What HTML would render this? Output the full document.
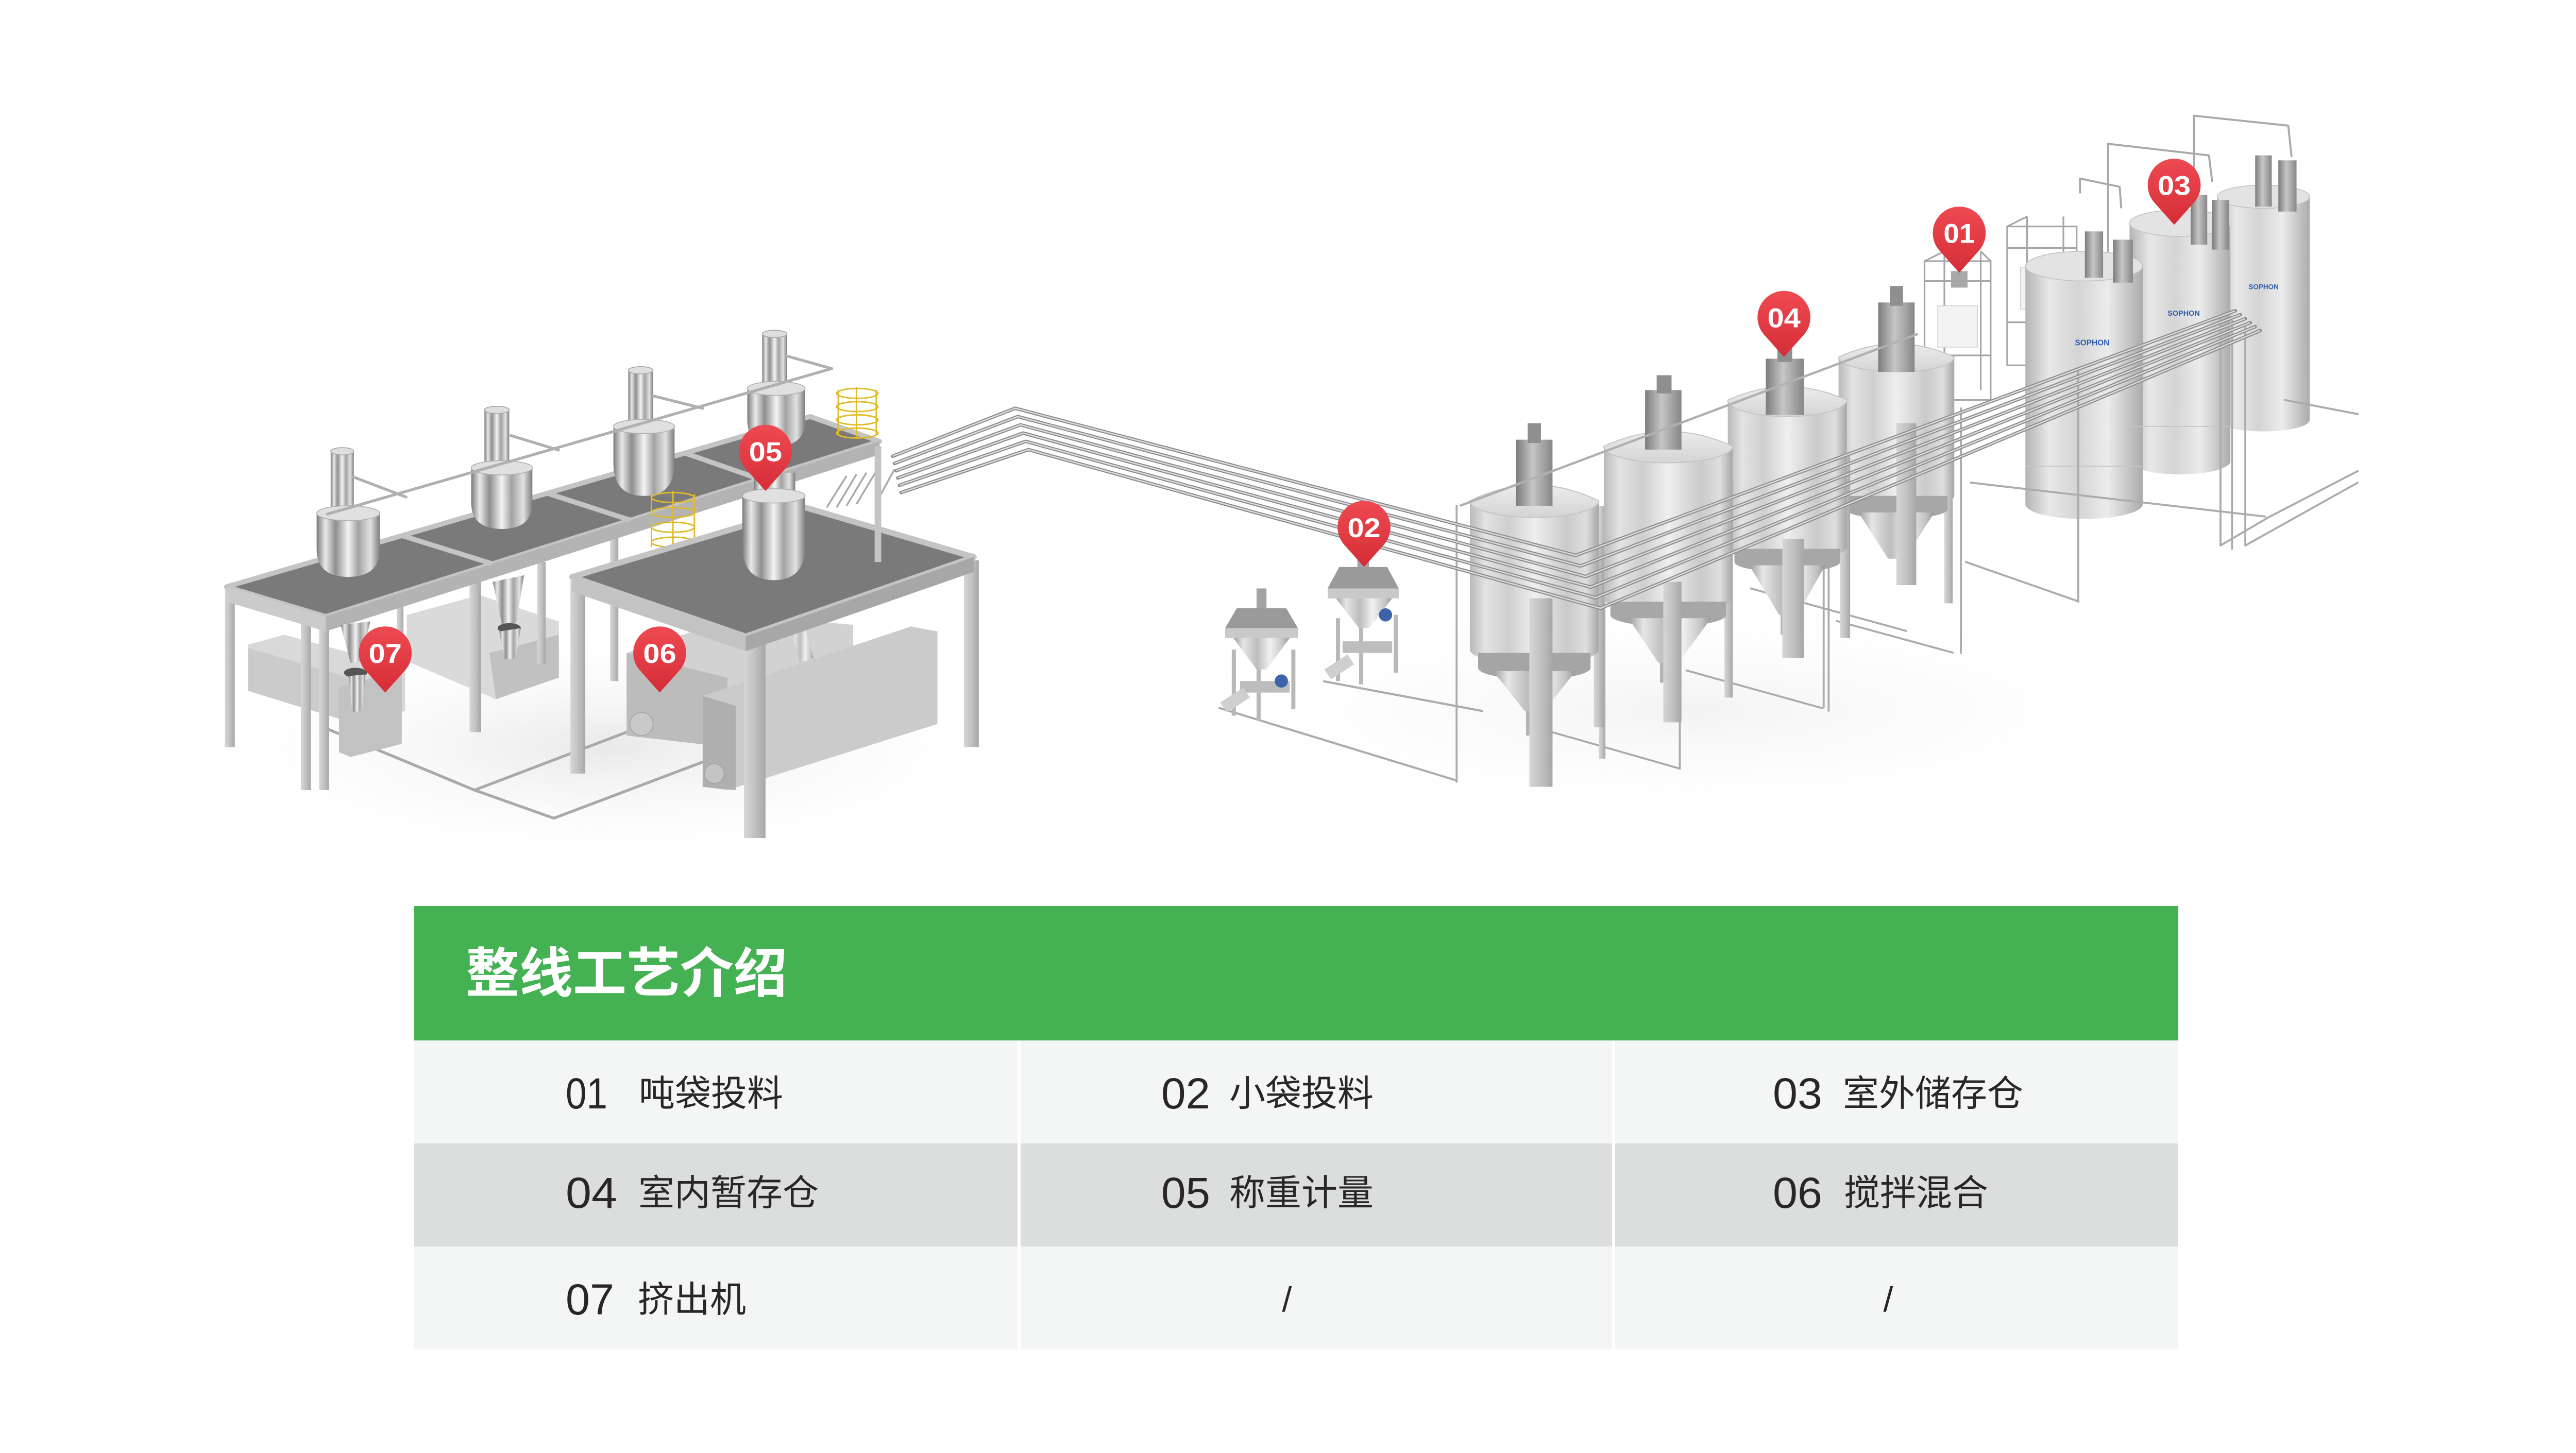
<!DOCTYPE html>
<html>
<head>
<meta charset="utf-8">
<style>
html,body{margin:0;padding:0;background:#ffffff;}
body{width:5032px;height:2821px;overflow:hidden;}
svg{display:block;}
</style>
</head>
<body>
<svg width="5032" height="2821" viewBox="0 0 5032 2821" xmlns="http://www.w3.org/2000/svg">
<defs>
  <linearGradient id="cyl" x1="0" y1="0" x2="1" y2="0">
    <stop offset="0" stop-color="#9c9c9c"/>
    <stop offset="0.18" stop-color="#e6e6e6"/>
    <stop offset="0.42" stop-color="#bdbdbd"/>
    <stop offset="0.65" stop-color="#f1f1f1"/>
    <stop offset="0.88" stop-color="#c4c4c4"/>
    <stop offset="1" stop-color="#959595"/>
  </linearGradient>
  <linearGradient id="gl" x1="0" y1="0" x2="1" y2="0">
    <stop offset="0" stop-color="#7a7a7a"/>
    <stop offset="0.14" stop-color="#e9e9e9"/>
    <stop offset="0.3" stop-color="#8e8e8e"/>
    <stop offset="0.5" stop-color="#f4f4f4"/>
    <stop offset="0.66" stop-color="#a2a2a2"/>
    <stop offset="0.85" stop-color="#e2e2e2"/>
    <stop offset="1" stop-color="#7d7d7d"/>
  </linearGradient>
  <linearGradient id="tk" x1="0" y1="0" x2="1" y2="0">
    <stop offset="0" stop-color="#b9b9b9"/>
    <stop offset="0.12" stop-color="#e3e3e3"/>
    <stop offset="0.3" stop-color="#cfcfcf"/>
    <stop offset="0.5" stop-color="#efefef"/>
    <stop offset="0.75" stop-color="#cacaca"/>
    <stop offset="0.9" stop-color="#dedede"/>
    <stop offset="1" stop-color="#a6a6a6"/>
  </linearGradient>
  <linearGradient id="si" x1="0" y1="0" x2="1" y2="0">
    <stop offset="0" stop-color="#b4b4b4"/>
    <stop offset="0.2" stop-color="#e8e8e8"/>
    <stop offset="0.45" stop-color="#d4d4d4"/>
    <stop offset="0.7" stop-color="#ececec"/>
    <stop offset="1" stop-color="#ababab"/>
  </linearGradient>
  <linearGradient id="dk" x1="0" y1="0" x2="1" y2="0">
    <stop offset="0" stop-color="#7c7c7c"/>
    <stop offset="0.45" stop-color="#c6c6c6"/>
    <stop offset="1" stop-color="#868686"/>
  </linearGradient>
  <linearGradient id="leg" x1="0" y1="0" x2="1" y2="0">
    <stop offset="0" stop-color="#d6d6d6"/>
    <stop offset="0.5" stop-color="#c2c2c2"/>
    <stop offset="1" stop-color="#a7a7a7"/>
  </linearGradient>
  <linearGradient id="dome" x1="0" y1="0" x2="0" y2="1">
    <stop offset="0" stop-color="#ececec"/>
    <stop offset="1" stop-color="#d4d4d4"/>
  </linearGradient>
  <linearGradient id="mk" x1="0" y1="0" x2="0" y2="1">
    <stop offset="0" stop-color="#ee4a52"/>
    <stop offset="1" stop-color="#d52d37"/>
  </linearGradient>
  <radialGradient id="sh" cx="0.5" cy="0.5" r="0.5">
    <stop offset="0" stop-color="#e9e9e9" stop-opacity="1"/>
    <stop offset="1" stop-color="#ffffff" stop-opacity="0"/>
  </radialGradient>
</defs>

<rect x="0" y="0" width="5032" height="2821" fill="#ffffff"/>

<g transform="scale(3.20918)">
  <!-- floor shadows -->
  <ellipse cx="365" cy="452" rx="260" ry="74" fill="url(#sh)"/>
  <ellipse cx="1020" cy="430" rx="320" ry="70" fill="url(#sh)" opacity="0.55"/>

  <!-- left floor pipes -->
  <g fill="none" stroke="#a9a9a9" stroke-width="1.7" stroke-linecap="round" stroke-linejoin="round">
    <polyline points="198,311 198,441 287,478 335,495 433,458"/>
    <polyline points="287,478 392,438"/>
  </g>

  <!-- extruder boxes under long platform -->
  <polygon points="150,390 172,384 245,404 245,430 222,440 150,418" fill="#d9d9d9"/>
  <polygon points="150,392 222,413 222,440 150,418" fill="#cbcbcb"/>
  <polygon points="205,416 243,405 243,450 212,458 205,455" fill="#c2c2c2"/>
  <polygon points="246,372 290,360 338,376 338,408 300,423 246,400" fill="#dadada"/>
  <polygon points="296,395 338,384 338,410 300,423" fill="#c1c1c1"/>

  <!-- long platform legs -->
  <g fill="url(#leg)">
    <rect x="136" y="356" width="6" height="96"/>
    <rect x="182" y="374" width="6" height="104"/>
    <rect x="193" y="377" width="6" height="101"/>
    <rect x="240" y="330" width="4" height="60"/>
    <rect x="284" y="348" width="7" height="95"/>
    <rect x="325" y="340" width="5" height="62"/>
    <rect x="369" y="318" width="5" height="94"/>
  </g>

  <!-- long platform top -->
  <polygon points="137,355 490,252 532,267 197,373" fill="#7a7a7a" stroke="#c4c4c4" stroke-width="3" stroke-linejoin="round"/>
  <polygon points="137,355 197,373 197,382 137,364" fill="#cbcbcb"/>
  <polygon points="197,373 532,267 532,275 197,382" fill="#b3b3b3"/>
  <g stroke="#c4c4c4" stroke-width="3">
    <line x1="243" y1="324" x2="297.5" y2="341"/>
    <line x1="331" y1="298.4" x2="381.3" y2="314.7"/>
    <line x1="414" y1="274" x2="460" y2="290"/>
  </g>

  <!-- funnels under long platform -->
  <path d="M206,378 L224,376 L218,400 L212,401 Z" fill="url(#gl)"/>
  <ellipse cx="215" cy="407" rx="7" ry="3" fill="#555"/>
  <path d="M211,409 L221,408 L219,430 L213,431 Z" fill="url(#gl)"/>
  <path d="M298,352 L317,348 L312,378 L304,380 Z" fill="url(#gl)"/>
  <ellipse cx="308" cy="380" rx="7" ry="3" fill="#555"/>
  <path d="M302,382 L315,380 L312,398 L305,399 Z" fill="url(#gl)"/>

  <!-- yellow cages -->
  <g fill="none" stroke="#e0bb27" stroke-width="0.9">
    <line x1="507" y1="236" x2="507" y2="263"/><line x1="518" y1="234" x2="518" y2="265"/><line x1="530" y1="236" x2="530" y2="263"/>
    <ellipse cx="518.5" cy="238" rx="12.5" ry="3"/><ellipse cx="518.5" cy="246" rx="12.5" ry="3"/>
    <ellipse cx="518.5" cy="254" rx="12.5" ry="3"/><ellipse cx="518.5" cy="262" rx="12.5" ry="3"/>
    <line x1="394" y1="299" x2="394" y2="331"/><line x1="407" y1="297" x2="407" y2="333"/><line x1="420" y1="299" x2="420" y2="331"/>
    <ellipse cx="407" cy="301" rx="13" ry="3"/><ellipse cx="407" cy="310" rx="13" ry="3"/>
    <ellipse cx="407" cy="319" rx="13" ry="3"/><ellipse cx="407" cy="328" rx="13" ry="3"/>
  </g>

  <!-- station hoppers + loaders on long platform -->
  <!-- S1 -->
  <rect x="200" y="273" width="14" height="37" fill="url(#gl)"/>
  <ellipse cx="207" cy="273" rx="7" ry="2.2" fill="#dedede" stroke="#a8a8a8" stroke-width="0.5"/>
  <path d="M191.5,310.5 L191.5,332 Q191.5,349 210.6,349 Q229.7,349 229.7,332 L229.7,310.5 Z" fill="url(#gl)"/>
  <ellipse cx="210.6" cy="310.5" rx="19.1" ry="4.5" fill="#e0e0e0" stroke="#b0b0b0" stroke-width="0.5"/>
  <!-- S2 -->
  <rect x="293" y="248" width="15" height="36" fill="url(#gl)"/>
  <ellipse cx="300.5" cy="248" rx="7.5" ry="2.2" fill="#dedede" stroke="#a8a8a8" stroke-width="0.5"/>
  <path d="M285,283 L285,304 Q285,320 303.5,320 Q322,320 322,304 L322,283 Z" fill="url(#gl)"/>
  <ellipse cx="303.5" cy="283" rx="18.5" ry="4.3" fill="#e0e0e0" stroke="#b0b0b0" stroke-width="0.5"/>
  <!-- S3 -->
  <rect x="380" y="224" width="15" height="35" fill="url(#gl)"/>
  <ellipse cx="387.5" cy="224" rx="7.5" ry="2.2" fill="#dedede" stroke="#a8a8a8" stroke-width="0.5"/>
  <path d="M371,258 L371,280 Q371,300 389.5,300 Q408,300 408,280 L408,258 Z" fill="url(#gl)"/>
  <ellipse cx="389.5" cy="258" rx="18.5" ry="4.3" fill="#e0e0e0" stroke="#b0b0b0" stroke-width="0.5"/>
  <!-- S4 -->
  <rect x="461" y="202" width="15" height="34" fill="url(#gl)"/>
  <ellipse cx="468.5" cy="202" rx="7.5" ry="2.2" fill="#dedede" stroke="#a8a8a8" stroke-width="0.5"/>
  <path d="M452,235 L452,254 Q452,270 469.5,270 Q487,270 487,254 L487,235 Z" fill="url(#gl)"/>
  <ellipse cx="469.5" cy="235" rx="17.5" ry="4.2" fill="#e0e0e0" stroke="#b0b0b0" stroke-width="0.5"/>

  <!-- top conveying pipe -->
  <g fill="none" stroke="#b0b0b0" stroke-width="1.7" stroke-linecap="round">
    <line x1="198" y1="311" x2="503" y2="223"/>
    <line x1="213.8" y1="288.6" x2="245.6" y2="300.7"/>
    <line x1="309" y1="263.5" x2="337.8" y2="272.3"/>
    <line x1="395" y1="239.5" x2="425" y2="247"/>
    <line x1="476" y1="215.4" x2="503" y2="223"/>
  </g>

  <!-- mixer 06 -->
  <polygon points="379,395 450,372 516,378 516,430 440,452 379,445" fill="#d2d2d2"/>
  <polygon points="379,395 440,410 440,452 379,445" fill="#bcbcbc"/>
  <ellipse cx="388" cy="438" rx="7" ry="7" fill="#c9c9c9" stroke="#a5a5a5" stroke-width="0.5"/>
  <polygon points="425,421 551,379 567,382 567,438 440,478 425,476" fill="#cbcbcb"/>
  <polygon points="425,421 445,427 445,478 425,476" fill="#afafaf"/>
  <ellipse cx="432" cy="468" rx="6" ry="6" fill="#c4c4c4" stroke="#a3a3a3" stroke-width="0.5"/>
  <path d="M478,380 L486,377 L492,398 L484,401 Z" fill="url(#cyl)"/>

  <!-- big platform legs -->
  <g fill="url(#leg)">
    <rect x="345" y="351" width="9" height="117"/>
    <rect x="583" y="339" width="9" height="113"/>
    <rect x="450" y="387" width="13" height="120"/>
  </g>
  <!-- big platform top -->
  <polygon points="346,349 487,307 589,337 451,385" fill="#7a7a7a" stroke="#c4c4c4" stroke-width="3.5" stroke-linejoin="round"/>
  <polygon points="346,349 451,385 451,394 346,358" fill="#c3c3c3"/>
  <polygon points="451,385 589,337 589,346 451,394" fill="#a7a7a7"/>
  <!-- central weigh unit -->
  <rect x="456" y="286" width="25" height="16" fill="url(#gl)"/>
  <path d="M449,300 L449,330 Q449,351 468,351 Q487,351 487,330 L487,300 Z" fill="url(#gl)"/>
  <ellipse cx="468" cy="300" rx="19" ry="4.3" fill="#e0e0e0" stroke="#b0b0b0" stroke-width="0.5"/>

  <!-- flex hoses to pipe bundle -->
  <g stroke="#a9a9a9" stroke-width="1.1" fill="none">
    <line x1="500" y1="307" x2="512" y2="288"/>
    <line x1="506" y1="307" x2="518" y2="287"/>
    <line x1="512" y1="306" x2="524" y2="286"/>
    <line x1="518" y1="305" x2="530" y2="285"/>
    <line x1="530" y1="304" x2="541" y2="284"/>
  </g>
  <rect x="529" y="270" width="4" height="70" fill="#c4c4c4"/>

  <!-- small bag stations 02 -->
  <g fill="none" stroke="#acacac" stroke-width="1.3" stroke-linecap="round">
    <line x1="737.5" y1="428.3" x2="881" y2="472.2"/>
    <line x1="800.8" y1="412.2" x2="896.4" y2="430.1"/>
  </g>
  <!-- unit B -->
  <g>
    <rect x="745" y="393" width="2.5" height="40" fill="#b9b9b9"/>
    <rect x="781" y="393" width="2.5" height="36" fill="#b9b9b9"/>
    <rect x="760" y="398" width="2.5" height="38" fill="#b9b9b9"/>
    <polygon points="748,368 778,368 785,380 741,380" fill="#9a9a9a"/>
    <polygon points="741,380 785,380 785,386 741,386" fill="#c9c9c9"/>
    <polygon points="746,386 780,386 766,405 760,405" fill="url(#cyl)"/>
    <rect x="760" y="356" width="6" height="12" fill="#a3a3a3"/>
    <rect x="750" y="412" width="30" height="7" fill="#bdbdbd"/>
    <ellipse cx="775" cy="412" rx="4" ry="4" fill="#3f63a8"/>
    <polygon points="738,425 752,416 756,422 742,431" fill="#cfcfcf"/>
  </g>
  <!-- unit A -->
  <g>
    <rect x="808" y="374" width="2.5" height="38" fill="#b9b9b9"/>
    <rect x="843" y="372" width="2.5" height="35" fill="#b9b9b9"/>
    <rect x="822" y="378" width="2.5" height="36" fill="#b9b9b9"/>
    <polygon points="810,343 839,343 846,356 803,356" fill="#9a9a9a"/>
    <polygon points="803,356 846,356 846,362 803,362" fill="#c9c9c9"/>
    <polygon points="808,362 842,362 828,380 822,380" fill="url(#cyl)"/>
    <rect x="821" y="333" width="7" height="10" fill="#a3a3a3"/>
    <rect x="812" y="388" width="30" height="7" fill="#bdbdbd"/>
    <ellipse cx="838" cy="372" rx="4" ry="4" fill="#3f63a8"/>
    <polygon points="801,405 815,396 819,402 805,411" fill="#cfcfcf"/>
  </g>

  <!-- bag station frames (01 and neighbour) -->
  <g stroke="#a6a6a6" stroke-width="1" fill="none">
    <rect x="1164" y="158" width="40" height="84"/>
    <line x1="1176" y1="152" x2="1176" y2="236"/>
    <line x1="1198" y1="152" x2="1198" y2="236"/>
    <line x1="1164" y1="158" x2="1176" y2="152"/>
    <line x1="1204" y1="158" x2="1198" y2="152"/>
    <line x1="1164" y1="170" x2="1204" y2="170"/>
    <line x1="1164" y1="215" x2="1204" y2="215"/>
    <rect x="1214" y="137" width="42" height="84"/>
    <line x1="1226" y1="131" x2="1226" y2="216"/>
    <line x1="1248" y1="131" x2="1248" y2="216"/>
    <line x1="1214" y1="137" x2="1226" y2="131"/>
    <line x1="1214" y1="150" x2="1256" y2="150"/>
    <line x1="1214" y1="195" x2="1256" y2="195"/>
  </g>
  <rect x="1172" y="185" width="24" height="25" fill="#f3f3f3" stroke="#d0d0d0" stroke-width="0.5"/>
  <rect x="1222" y="162" width="24" height="25" fill="#f3f3f3" stroke="#d0d0d0" stroke-width="0.5"/>
  <rect x="1180" y="164" width="10" height="10" fill="#a8a8a8"/>

  <!-- outdoor silo piping frames -->
  <g fill="none" stroke="#a9a9a9" stroke-width="1.2" stroke-linejoin="round">
    <polyline points="1258,117 1258,108 1282,113 1283,126"/>
    <polyline points="1275,190 1275,87 1336,94 1338,110"/>
    <polyline points="1327,122 1327,70 1384,76 1386,95"/>
  </g>

  <!-- silos (back to front) -->
  <!-- S3 -->
  <path d="M1341,119 L1341,254 A28,7 0 0 0 1397,254 L1397,119 Z" fill="url(#si)"/>
  <ellipse cx="1369" cy="119" rx="28" ry="7" fill="#e3e3e3" stroke="#c2c2c2" stroke-width="0.5"/>
  <rect x="1364" y="94" width="10" height="31" fill="url(#dk)"/>
  <rect x="1378" y="97" width="11" height="31" fill="url(#dk)"/>
  <text x="1360" y="175" font-family="'Liberation Sans',sans-serif" font-size="4.2" font-weight="700" fill="#2f5db3">SOPHON</text>
  <!-- S2 -->
  <path d="M1288,135 L1288,279 A30.5,8 0 0 0 1349,279 L1349,135 Z" fill="url(#si)"/>
  <ellipse cx="1318.5" cy="135" rx="30.5" ry="8" fill="#e3e3e3" stroke="#c2c2c2" stroke-width="0.5"/>
  <rect x="1325" y="118" width="10" height="30" fill="url(#dk)"/>
  <rect x="1338" y="121" width="10" height="30" fill="url(#dk)"/>
  <text x="1311" y="191" font-family="'Liberation Sans',sans-serif" font-size="4.5" font-weight="700" fill="#2f5db3">SOPHON</text>
  <!-- S1 -->
  <path d="M1225,161 L1225,305 A35.5,9 0 0 0 1296,305 L1296,161 Z" fill="url(#si)"/>
  <ellipse cx="1260.5" cy="161" rx="35.5" ry="9" fill="#e3e3e3" stroke="#c2c2c2" stroke-width="0.5"/>
  <rect x="1261" y="140" width="11" height="28" fill="url(#dk)"/>
  <rect x="1278" y="145" width="12" height="26" fill="url(#dk)"/>
  <text x="1255" y="209" font-family="'Liberation Sans',sans-serif" font-size="4.8" font-weight="700" fill="#2f5db3">SOPHON</text>
  <line x1="1225" y1="282" x2="1296" y2="282" stroke="#c6c6c6" stroke-width="0.6"/>
  <line x1="1288" y1="258" x2="1349" y2="258" stroke="#c6c6c6" stroke-width="0.6"/>

  <!-- floor lines right -->
  <g fill="none" stroke="#acacac" stroke-width="1.2" stroke-linecap="round">
    <line x1="939" y1="443" x2="1016" y2="465"/>
    <line x1="1020" y1="405.6" x2="1102" y2="428.4"/>
    <line x1="1059" y1="356" x2="1153" y2="381.7"/>
    <line x1="1111" y1="375.7" x2="1181" y2="394.8"/>
    <line x1="1189" y1="340" x2="1257" y2="363.8"/>
    <line x1="1192" y1="292" x2="1370" y2="312.5"/>
    <line x1="1382" y1="242" x2="1426" y2="250.5"/>
    <polyline points="1343,330 1343,192"/>
    <polyline points="1350,332 1350,194"/>
    <polyline points="1358,330 1358,196"/>
    <polyline points="1343,330 1372,313 1426,285"/>
    <polyline points="1358,330 1426,292"/>
    <line x1="1257" y1="223" x2="1257" y2="364"/>
    <line x1="1106" y1="278" x2="1106" y2="430"/>
    <line x1="1186" y1="247" x2="1186" y2="395"/>
    <line x1="1016" y1="310" x2="1016" y2="465"/>
    <line x1="1103" y1="280" x2="1103" y2="428"/>
    <line x1="881" y1="306" x2="881" y2="473"/>
  </g>

  <!-- indoor tanks, back to front -->
  <!-- D -->
  <rect x="1176" y="250" width="5" height="115" fill="url(#leg)"/>
  <path d="M1112,216 L1112,300 A35,8 0 0 0 1182,300 L1182,216 Z" fill="url(#tk)"/>
  <path d="M1112,216 Q1147,200 1182,216 A35,9 0 0 1 1112,216 Z" fill="url(#dome)" stroke="#c4c4c4" stroke-width="0.6"/>
  <path d="M1116,300 L1178,300 L1178,308 A31,6 0 0 1 1116,308 Z" fill="#a7a7a7"/>
  <path d="M1124,310 L1170,310 L1152,338 L1142,338 Z" fill="url(#cyl)"/>
  <rect x="1136" y="183" width="22" height="42" fill="url(#dk)"/>
  <rect x="1143" y="173" width="8" height="12" fill="#8f8f8f"/>
  <rect x="1147" y="256" width="12" height="98" fill="url(#leg)"/>
  <!-- C -->
  <rect x="1113" y="276" width="6" height="110" fill="url(#leg)"/>
  <path d="M1045,242 L1045,331 A36,8 0 0 0 1117,331 L1117,242 Z" fill="url(#tk)"/>
  <path d="M1045,242 Q1081,226 1117,242 A36,10 0 0 1 1045,242 Z" fill="url(#dome)" stroke="#c4c4c4" stroke-width="0.6"/>
  <path d="M1049,332 L1113,332 L1113,340 A32,6 0 0 1 1049,340 Z" fill="#a7a7a7"/>
  <path d="M1058,342 L1104,342 L1087,372 L1076,372 Z" fill="url(#cyl)"/>
  <rect x="1077" y="372" width="9" height="12" fill="#b2b2b2"/>
  <rect x="1068" y="217" width="23" height="34" fill="url(#dk)"/>
  <rect x="1075" y="209" width="9" height="10" fill="#8f8f8f"/>
  <rect x="1078" y="326" width="13" height="72" fill="url(#leg)"/>
  <!-- B -->
  <rect x="1043" y="310" width="5" height="112" fill="url(#leg)"/>
  <rect x="967" y="306" width="4" height="153" fill="url(#leg)"/>
  <path d="M970,270 L970,362 A39,9 0 0 0 1048,362 L1048,270 Z" fill="url(#tk)"/>
  <path d="M970,270 Q1009,252 1048,270 A39,10 0 0 1 970,270 Z" fill="url(#dome)" stroke="#c4c4c4" stroke-width="0.6"/>
  <path d="M974,364 L1044,364 L1044,372 A35,7 0 0 1 974,372 Z" fill="#a7a7a7"/>
  <path d="M985,374 L1035,374 L1015,401 L1003,401 Z" fill="url(#cyl)"/>
  <rect x="1004" y="401" width="10" height="12" fill="#b2b2b2"/>
  <rect x="995" y="236" width="22" height="36" fill="url(#dk)"/>
  <rect x="1002" y="227" width="9" height="11" fill="#8f8f8f"/>
  <rect x="1006" y="352" width="11" height="85" fill="url(#leg)"/>
  <!-- A -->
  <rect x="964" y="330" width="6" height="110" fill="url(#leg)"/>
  <path d="M889,303 L889,393 A39,9 0 0 0 967,393 L967,303 Z" fill="url(#tk)"/>
  <path d="M889,303 Q928,284 967,303 A39,10 0 0 1 889,303 Z" fill="url(#dome)" stroke="#c4c4c4" stroke-width="0.6"/>
  <path d="M894,395 L962,395 L962,404 A34,7 0 0 1 894,404 Z" fill="#a5a5a5"/>
  <path d="M903,406 L953,406 L934,430 L922,430 Z" fill="url(#cyl)"/>
  <rect x="923" y="430" width="10" height="15" fill="#b2b2b2"/>
  <rect x="917" y="266" width="22" height="40" fill="url(#dk)"/>
  <rect x="924" y="256" width="8" height="12" fill="#8f8f8f"/>
  <rect x="925" y="362" width="14" height="114" fill="url(#leg)"/>

  <!-- pipe over tank tops -->
  <line x1="883" y1="306" x2="1160" y2="202" stroke="#b0b0b0" stroke-width="1.4"/>

  <!-- pipe bundle (6 pipes) -->
  <g fill="none" stroke="#8c8c8c" stroke-width="2.1" stroke-linejoin="round" stroke-linecap="round">
    <polyline points="540,276 614,247 953,336 1352,188"/>
    <polyline points="541,280.4 615.6,252 956,342.4 1355,190.4"/>
    <polyline points="542,284.8 617.2,257 959,348.8 1358,192.8"/>
    <polyline points="543,289.2 618.8,262 962,355.2 1361,195.2"/>
    <polyline points="544,293.6 620.4,267 965,361.6 1364,197.6"/>
    <polyline points="545,298 622,272 968,368 1367,200"/>
  </g>
  <g fill="none" stroke="#dcdcdc" stroke-width="0.8" stroke-linejoin="round">
    <polyline points="540,276 614,247 953,336 1352,188"/>
    <polyline points="541,280.4 615.6,252 956,342.4 1355,190.4"/>
    <polyline points="542,284.8 617.2,257 959,348.8 1358,192.8"/>
    <polyline points="543,289.2 618.8,262 962,355.2 1361,195.2"/>
    <polyline points="544,293.6 620.4,267 965,361.6 1364,197.6"/>
    <polyline points="545,298 622,272 968,368 1367,200"/>
  </g>

  <!-- markers -->
  <g font-family="'Liberation Sans',sans-serif" font-weight="700" font-size="16.5" fill="#ffffff" text-anchor="middle">
    <path d="M221.1,405.67 A16,16 0 1 1 244.9,405.67 L233,419 Z" fill="url(#mk)"/>
    <text x="233" y="401" textLength="20" lengthAdjust="spacingAndGlyphs">07</text>
    <path d="M387.1,405.67 A16,16 0 1 1 410.9,405.67 L399,419 Z" fill="url(#mk)"/>
    <text x="399" y="401" textLength="20" lengthAdjust="spacingAndGlyphs">06</text>
    <path d="M451.1,283.67 A16,16 0 1 1 474.9,283.67 L463,297 Z" fill="url(#mk)"/>
    <text x="463" y="279" textLength="20" lengthAdjust="spacingAndGlyphs">05</text>
    <path d="M813.1,329.67 A16,16 0 1 1 836.9,329.67 L825,343 Z" fill="url(#mk)"/>
    <text x="825" y="325" textLength="20" lengthAdjust="spacingAndGlyphs">02</text>
    <path d="M1067.1,202.67 A16,16 0 1 1 1090.9,202.67 L1079,216 Z" fill="url(#mk)"/>
    <text x="1079" y="198" textLength="20" lengthAdjust="spacingAndGlyphs">04</text>
    <path d="M1173.1,151.67 A16,16 0 1 1 1196.9,151.67 L1185,165 Z" fill="url(#mk)"/>
    <text x="1185" y="147" textLength="19" lengthAdjust="spacingAndGlyphs">01</text>
    <path d="M1303.1,122.67 A16,16 0 1 1 1326.9,122.67 L1315,136 Z" fill="url(#mk)"/>
    <text x="1315" y="118" textLength="20" lengthAdjust="spacingAndGlyphs">03</text>
  </g>
</g>

<!-- ===== TABLE ===== -->
<rect x="804" y="1759" width="3424" height="261" fill="#44b153"/>
<rect x="804" y="2020" width="3424" height="200" fill="#f4f6f5"/>
<rect x="804" y="2220" width="3424" height="200" fill="#dcdedd"/>
<rect x="804" y="2420" width="3424" height="200" fill="#f4f6f5"/>
<rect x="1975" y="2020" width="6" height="600" fill="#ffffff"/>
<rect x="3129" y="2020" width="6" height="600" fill="#ffffff"/>

<text x="904" y="1926" font-family="'Liberation Sans','Noto Sans CJK SC',sans-serif" font-weight="700" font-size="104" fill="#ffffff">整线工艺介绍</text>

<g font-family="'Liberation Sans',sans-serif" font-size="84" fill="#2a2627">
  <text x="1098" y="2152" textLength="81" lengthAdjust="spacingAndGlyphs">01</text>
  <text x="1098" y="2345" textLength="100" lengthAdjust="spacingAndGlyphs">04</text>
  <text x="1098" y="2552" textLength="94" lengthAdjust="spacingAndGlyphs">07</text>
  <text x="2254" y="2152" textLength="95" lengthAdjust="spacingAndGlyphs">02</text>
  <text x="2254" y="2345" textLength="95" lengthAdjust="spacingAndGlyphs">05</text>
  <text x="3441" y="2152" textLength="96" lengthAdjust="spacingAndGlyphs">03</text>
  <text x="3441" y="2345" textLength="96" lengthAdjust="spacingAndGlyphs">06</text>
</g>
<g font-family="'Liberation Sans',sans-serif" font-size="68" fill="#2a2627" text-anchor="middle">
  <text x="2498" y="2546">/</text>
  <text x="3665" y="2546">/</text>
</g>
<g font-family="'Liberation Sans','Noto Sans CJK SC',sans-serif" font-size="70" fill="#2a2627">
  <text x="1240" y="2147">吨袋投料</text>
  <text x="1239" y="2340">室内暂存仓</text>
  <text x="1238" y="2547">挤出机</text>
  <text x="2386" y="2147">小袋投料</text>
  <text x="2386" y="2340">称重计量</text>
  <text x="3577" y="2147">室外储存仓</text>
  <text x="3579" y="2340">搅拌混合</text>
</g>
</svg>
</body>
</html>
